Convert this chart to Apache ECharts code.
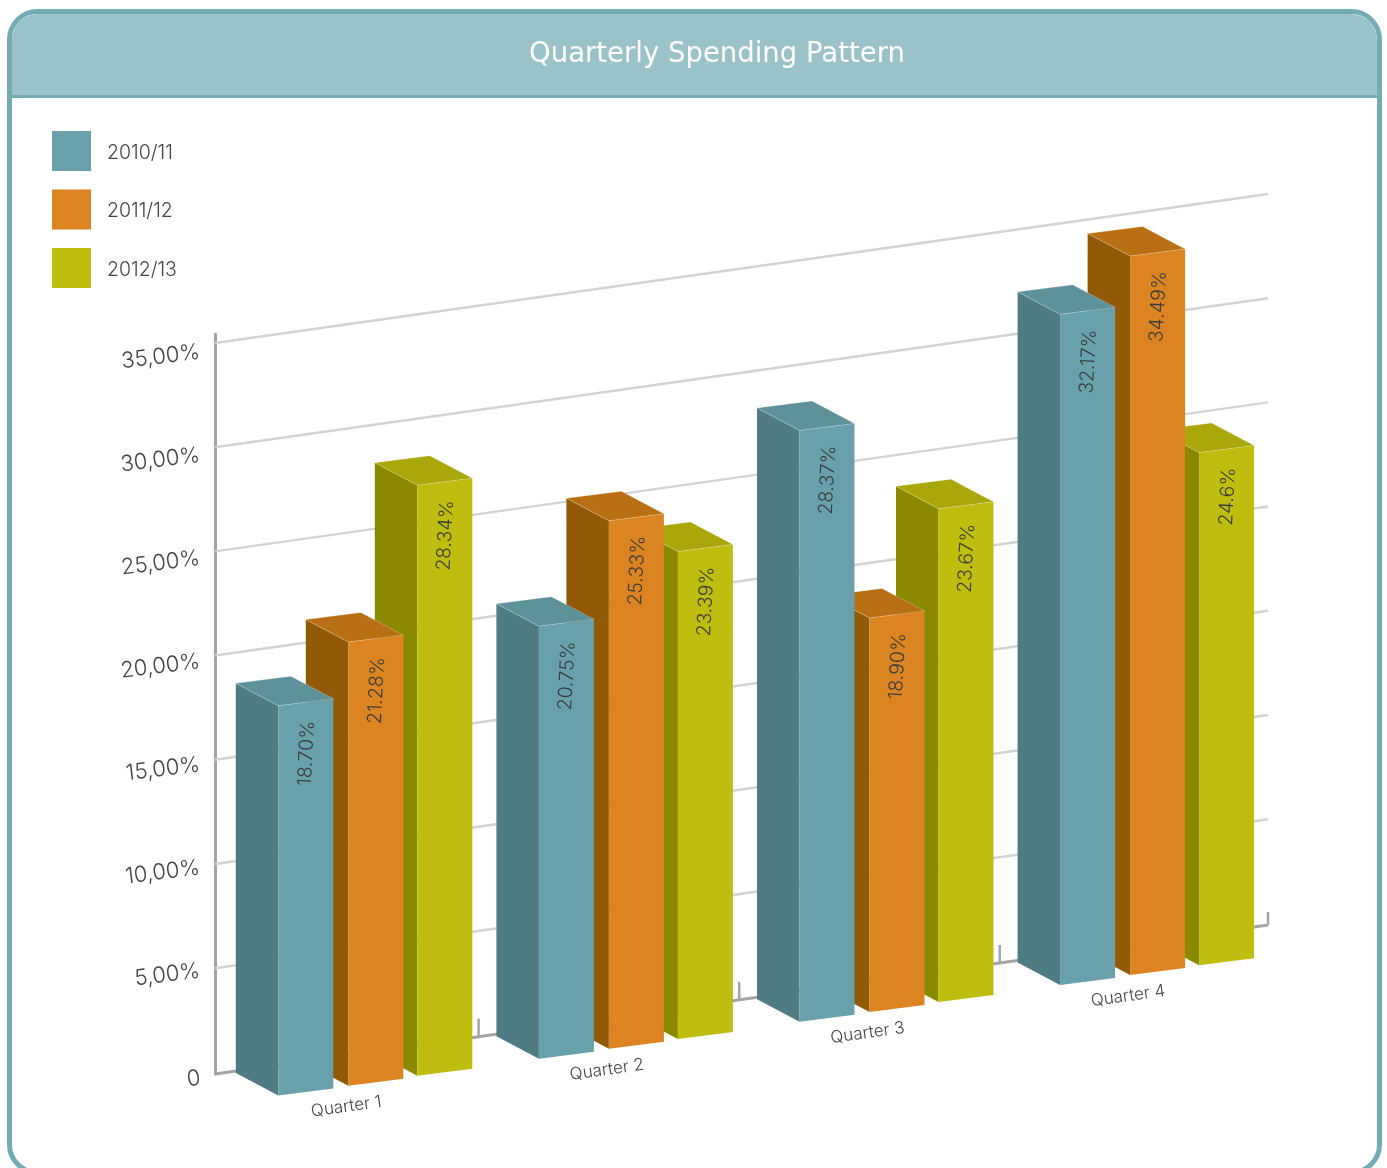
<!DOCTYPE html>
<html>
<head>
<meta charset="utf-8">
<title>Quarterly Spending Pattern</title>
<script src="https://cdn.jsdelivr.net/npm/echarts@6/dist/echarts.min.js"></script>
<style>html,body{margin:0;padding:0;background:#fff}#chart{width:1387px;height:1168px}</style>
</head>
<body>
<div id="chart"></div>
<script>
const quarters = ['Quarter 1', 'Quarter 2', 'Quarter 3', 'Quarter 4'];
const values201011 = [18.70, 20.75, 28.37, 32.17];
const values201112 = [21.28, 25.33, 18.90, 34.49];
const values201213 = [28.34, 23.39, 23.67, 24.6];
const labels201011 = ['18.70%', '20.75%', '28.37%', '32.17%'];
const labels201112 = ['21.28%', '25.33%', '18.90%', '34.49%'];
const labels201213 = ['28.34%', '23.39%', '23.67%', '24.6%'];
const tickLabels = ['0', '5,00%', '10,00%', '15,00%', '20,00%', '25,00%', '30,00%', '35,00%'];
const gridValues = [0, 5, 10, 15, 20, 25, 30, 35];

// Oblique projection of the floor and the bar boxes, in pixels.
const FONT = 'Inter, "Open Sans", sans-serif';
const AXIS_X = 215;
const AXIS_END = 1268;
const FLOOR_RISE = 149 / 1053;
const WALL_LIFT = 1.5;
const BOX_FRONT = 55;
const BOX_DX = 42.5;
const BOX_DY = 22.5;
const BOX_LEAN = 7;
const BOX_DROP = 30.5;
const TILT = 8 * Math.PI / 180;

const floorLift = x => (x - AXIS_X) * FLOOR_RISE;

// Gridlines and the floor line run across the chart at the floor's slope.
function renderGridLine(params, api) {
  const v = api.value(0);
  const y = api.coord([0, v])[1] - (v === 0 ? 0 : WALL_LIFT);
  return {
    type: 'line',
    silent: true,
    shape: { x1: AXIS_X, y1: y, x2: AXIS_END, y2: y - floorLift(AXIS_END) },
    style: { stroke: v === 0 ? '#a4a4a8' : '#d3d3d3', lineWidth: v === 0 ? 3 : 2.5 }
  };
}

// Category name below each cluster, with its tick on the floor line.
function renderQuarter(params, api) {
  const i = api.value(0);
  const last = i === quarters.length - 1;
  const pos = api.coord([i, 0]);
  const tickX = last ? AXIS_END : pos[0] + api.size([1, 0])[0] / 2;
  const tickY = pos[1] - floorLift(tickX);
  return {
    type: 'group',
    silent: true,
    children: [
      {
        type: 'line',
        shape: { x1: tickX, y1: tickY, x2: tickX, y2: tickY - (last ? 13 : 18) },
        style: { stroke: '#a4a4a8', lineWidth: 2.5 }
      },
      {
        type: 'text',
        x: pos[0] - 2,
        y: pos[1] - floorLift(pos[0]) + 51.5,
        rotation: TILT,
        style: {
          text: quarters[i], fontFamily: FONT, fontWeight: 300, fontSize: 17,
          fill: '#444', align: 'center', verticalAlign: 'middle'
        }
      }
    ]
  };
}

// One box per value: front face, left side and lid, with the value set on the front.
function boxRenderer(shift, palette, labels) {
  return function (params, api) {
    const i = api.value(0);
    const v = api.value(1);
    const zero = api.coord([i, 0]);
    const top = api.coord([i, v]);
    const h = zero[1] - top[1];
    const x = zero[0] + shift;
    const yb = zero[1] - floorLift(x) + BOX_DROP;
    const yt = yb - h;
    const xr = x + BOX_FRONT;
    const xl = x - BOX_DX;
    return {
      type: 'group',
      silent: true,
      children: [
        {
          type: 'polygon',
          shape: { points: [[xl, yb - BOX_DY], [x, yb], [x, yt], [xl, yt - BOX_DY]] },
          style: { fill: palette.side }
        },
        {
          type: 'polygon',
          shape: { points: [[x, yb], [xr, yb - BOX_LEAN], [xr, yt - BOX_LEAN], [x, yt]] },
          style: { fill: palette.front }
        },
        {
          type: 'polygon',
          shape: { points: [[x, yt], [xr, yt - BOX_LEAN], [xr - BOX_DX, yt - BOX_LEAN - BOX_DY], [xl, yt - BOX_DY]] },
          style: { fill: palette.lid, stroke: 'rgba(255,255,255,0.3)', lineWidth: 0.8 }
        },
        {
          type: 'text',
          x: x + 30,
          y: yt + 15,
          rotation: 87 * Math.PI / 180,
          style: {
            text: labels[i], fontFamily: FONT, fontWeight: 300, fontSize: 19.5,
            fill: '#3c3c3c', align: 'right', verticalAlign: 'middle'
          }
        }
      ]
    };
  };
}

const blue = { front: '#68a0ab', side: '#4f7c83', lid: '#5e929a' };
const orange = { front: '#db8421', side: '#925907', lid: '#b97015' };
const olive = { front: '#bfbe0e', side: '#8a8900', lid: '#a9a70a' };

function boxSeries(name, values, labels, shift, palette, z) {
  return {
    type: 'custom',
    name: name,
    xAxisIndex: 0,
    yAxisIndex: 0,
    z: z,
    itemStyle: { color: palette.front },
    encode: { x: 0, y: 1 },
    data: values.map((v, i) => [i, v]),
    renderItem: boxRenderer(shift, palette, labels)
  };
}

const chart = echarts.init(document.getElementById('chart'), null, { renderer: 'canvas' });
chart.setOption({
  animation: false,
  backgroundColor: '#fff',
  title: {
    text: 'Quarterly Spending Pattern',
    left: 717,
    top: 55,
    padding: 0,
    textAlign: 'center',
    textVerticalAlign: 'middle',
    textStyle: { color: '#fff', fontFamily: '"DejaVu Sans", sans-serif', fontWeight: 400, fontSize: 27.5 }
  },
  legend: {
    left: 52,
    top: 131,
    padding: 0,
    orient: 'vertical',
    itemWidth: 39,
    itemHeight: 40,
    itemGap: 18.5,
    selectedMode: false,
    data: [
      { name: '2010/11', icon: 'rect' },
      { name: '2011/12', icon: 'rect' },
      { name: '2012/13', icon: 'rect' }
    ],
    formatter: name => '{entry|' + name + '}',
    textStyle: {
      rich: { entry: { color: '#444', fontFamily: FONT, fontWeight: 300, fontSize: 19.5, padding: [4, 0, 0, 11] } }
    }
  },
  graphic: {
    elements: [
      {
        type: 'rect', z: -10, silent: true,
        shape: { x: 9.5, y: 11.5, width: 1370, height: 1161, r: 28 },
        style: { fill: '#fff', stroke: '#74acb6', lineWidth: 5 }
      },
      {
        type: 'rect', z: -9, silent: true,
        shape: { x: 12, y: 14, width: 1365, height: 82, r: [26, 26, 0, 0] },
        style: { fill: '#9ac3c9' }
      },
      {
        type: 'line', z: -8, silent: true,
        shape: { x1: 12, y1: 96.5, x2: 1377, y2: 96.5 },
        style: { stroke: '#74acb6', lineWidth: 3 }
      }
    ]
  },
  grid: [
    { left: 218, top: 334, width: 1042.4, height: 740 },
    { left: 200, top: 352, width: 100, height: 722 }
  ],
  xAxis: [
    { type: 'category', gridIndex: 0, data: quarters, show: false },
    { type: 'category', gridIndex: 1, data: quarters, show: false }
  ],
  yAxis: [
    {
      type: 'value', gridIndex: 0, min: 0, max: 35.5, interval: 5, offset: 3,
      axisLine: { show: true, lineStyle: { color: '#a4a4a8', width: 3 } },
      axisTick: { show: false }, axisLabel: { show: false }, splitLine: { show: false }
    },
    {
      type: 'value', gridIndex: 1, min: 0, max: 35, interval: 5,
      axisLine: { show: false }, axisTick: { show: false }, splitLine: { show: false },
      axisLabel: {
        margin: 0, rotate: 7, align: 'right', verticalAlign: 'middle',
        color: '#444', fontFamily: FONT, fontWeight: 300, fontSize: 22,
        formatter: v => (v === 0 ? '{zero|' + tickLabels[0] + '}' : tickLabels[v / 5]),
        rich: { zero: { fontFamily: FONT, fontWeight: 300, fontSize: 22, color: '#444', padding: [8, 0, 0, 0] } }
      }
    }
  ],
  series: [
    {
      type: 'custom', z: 1, xAxisIndex: 0, yAxisIndex: 0,
      encode: { y: 0 }, data: gridValues.map(v => [v]), renderItem: renderGridLine
    },
    {
      type: 'custom', z: 1, xAxisIndex: 0, yAxisIndex: 0,
      encode: { x: 0 }, data: quarters.map((q, i) => [i]), renderItem: renderQuarter
    },
    boxSeries('2010/11', values201011, labels201011, -70, blue, 5),
    boxSeries('2011/12', values201112, labels201112, 0, orange, 4),
    boxSeries('2012/13', values201213, labels201213, 69, olive, 3)
  ]
});
</script>
</body>
</html>
